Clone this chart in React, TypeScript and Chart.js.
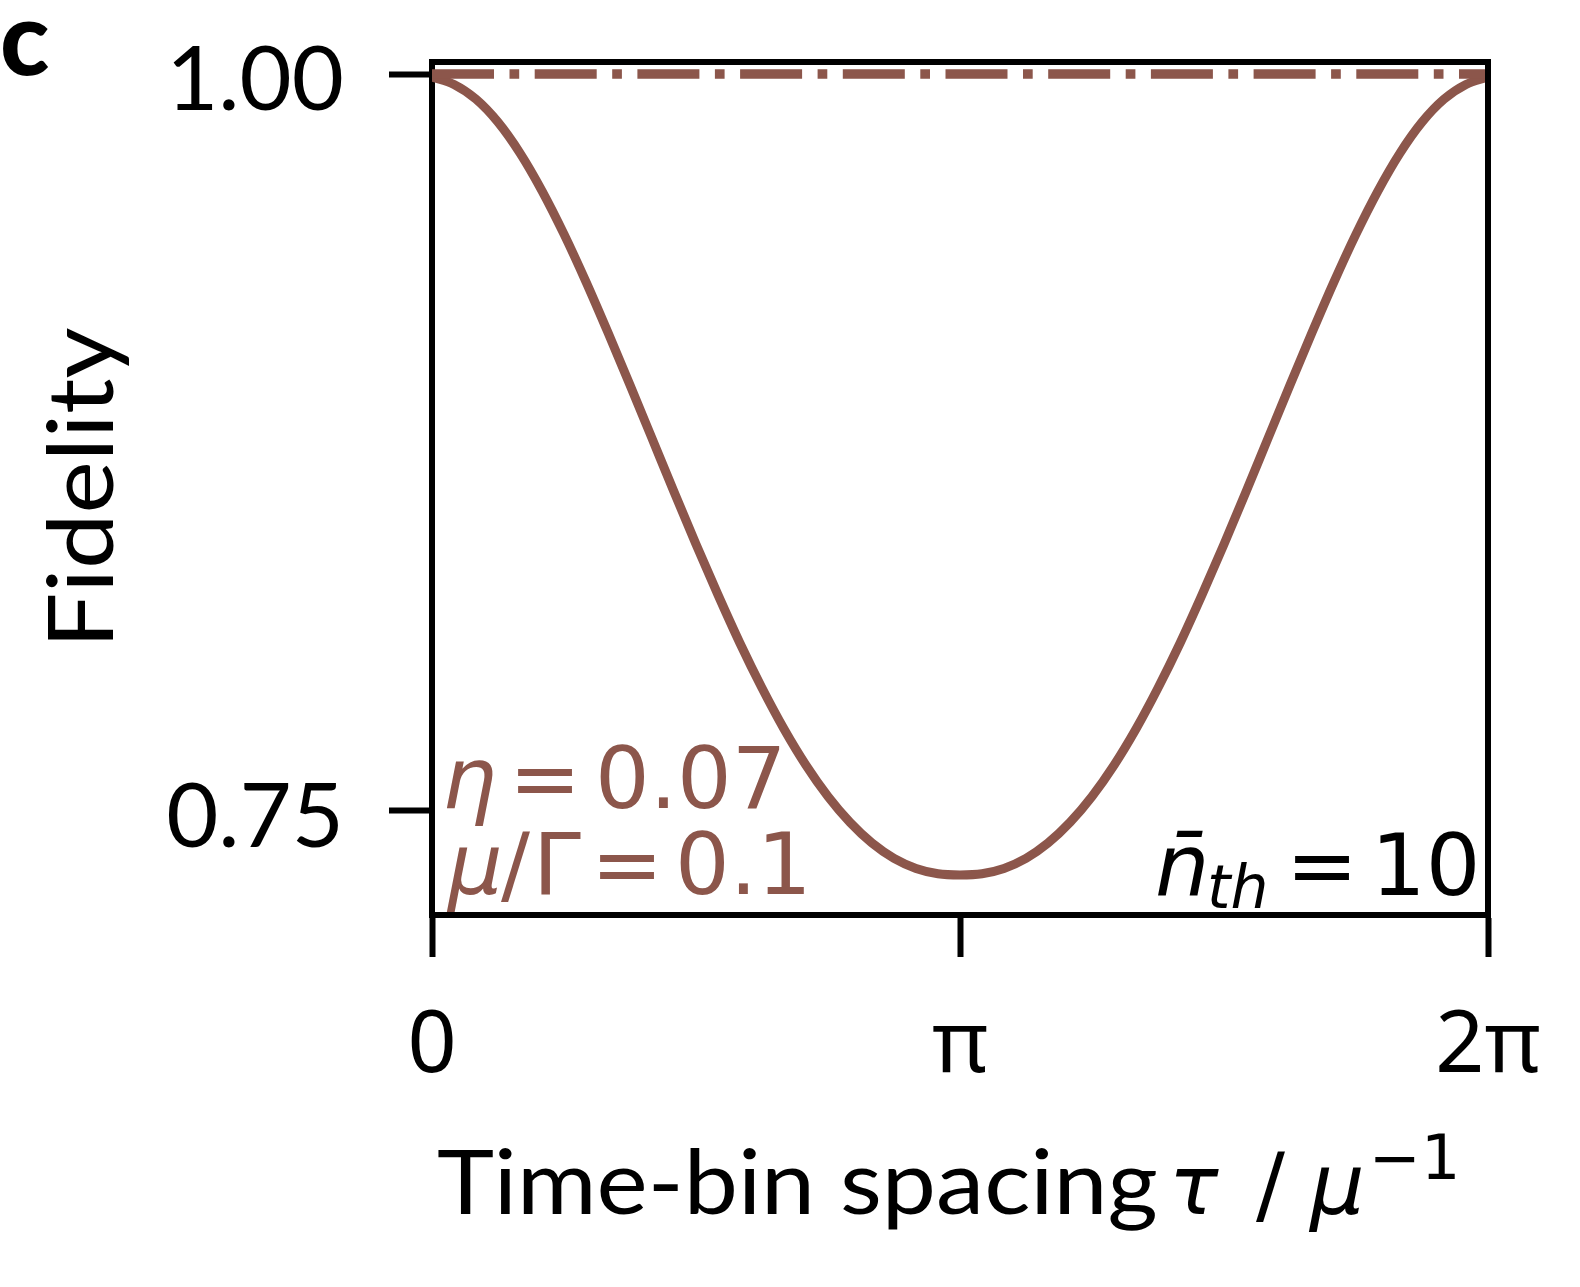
import React, { useEffect, useRef } from "react";
import { Chart, registerables } from "chart.js";

Chart.register(...registerables);

// τ in units of π
const TAU_OVER_PI = [
  0, 0.0417, 0.0833, 0.125, 0.1667, 0.2083, 0.25, 0.2917, 0.3333, 0.375, 0.4167, 0.4583,
  0.5, 0.5417, 0.5833, 0.625, 0.6667, 0.7083, 0.75, 0.7917, 0.8333, 0.875, 0.9167, 0.9583,
  1, 1.0417, 1.0833, 1.125, 1.1667, 1.2083, 1.25, 1.2917, 1.3333, 1.375, 1.4167, 1.4583,
  1.5, 1.5417, 1.5833, 1.625, 1.6667, 1.7083, 1.75, 1.7917, 1.8333, 1.875, 1.9167, 1.9583, 2,
];
const FIDELITY = [
  0.999, 0.9965, 0.9915, 0.9837, 0.9732, 0.9604, 0.9457, 0.9295, 0.9123, 0.8945, 0.8764, 0.8583,
  0.8405, 0.8233, 0.8069, 0.7917, 0.7778, 0.7655, 0.7549, 0.7461, 0.7391, 0.7339, 0.7305, 0.7287,
  0.7283, 0.7287, 0.7305, 0.7339, 0.7391, 0.7461, 0.7549, 0.7655, 0.7778, 0.7917, 0.8069, 0.8233,
  0.8405, 0.8583, 0.8764, 0.8945, 0.9123, 0.9295, 0.9457, 0.9604, 0.9732, 0.9837, 0.9915, 0.9965, 0.999,
];
const REF_TAU_OVER_PI = [0, 2];
const REF_FIDELITY = [1.0, 1.0];

const X_TICKS = [0, 1, 2];
const X_TICK_LABELS = ["0", "π", "2π"];
const Y_TICKS = [0.75, 1.0];
const Y_TICK_LABELS = ["0.75", "1.00"];
const X_MIN = 0;
const X_MAX = 2;
const Y_MIN = 0.7147;
const Y_MAX = 1.0041;

const BROWN = "#8c564b";
const W = 1580;
const H = 1287;

function inkText(
  ctx: CanvasRenderingContext2D,
  text: string,
  font: string,
  inkLeft: number,
  baseline: number,
  color: string,
  fitRight?: number
) {
  ctx.save();
  ctx.font = font;
  ctx.fillStyle = color;
  ctx.textAlign = "left";
  ctx.textBaseline = "alphabetic";
  const m = ctx.measureText(text);
  if (fitRight !== undefined) {
    const inkW = m.actualBoundingBoxLeft + m.actualBoundingBoxRight;
    const sx = (fitRight - inkLeft) / inkW;
    ctx.translate(inkLeft, baseline);
    ctx.scale(sx, 1);
    ctx.fillText(text, m.actualBoundingBoxLeft, 0);
  } else {
    ctx.fillText(text, inkLeft + m.actualBoundingBoxLeft, baseline);
  }
  ctx.restore();
}

const decorPlugin = {
  id: "decor",
  afterDraw(chart: any) {
    const ctx: CanvasRenderingContext2D = chart.ctx;
    const a = chart.chartArea;
    ctx.save();
    ctx.fillStyle = "#000";
    // top and right spines
    ctx.fillRect(a.left - 3, a.top - 3, a.right - a.left + 6, 6);
    ctx.fillRect(a.right - 3, a.top - 3, 6, a.bottom - a.top + 6);
    ctx.restore();

    // panel label
    inkText(ctx, "c", "900 102px Lato", 3, 75, "#000");

    // y title
    ctx.save();
    ctx.translate(113, 640);
    ctx.rotate(-Math.PI / 2);
    inkText(ctx, "Fidelity", "92px Lato", 0, 0, "#000", 312);
    ctx.restore();

    // x title
    const xb = 1214;
    inkText(ctx, "Time-bin spacing", "90px Lato", 438, xb, "#000", 1156);
    inkText(ctx, "τ", 'italic 82px "DejaVu Sans"', 1175, xb, "#000");
    inkText(ctx, "/", '86px "DejaVu Sans"', 1256, xb, "#000");
    inkText(ctx, "μ", 'italic 86px "DejaVu Sans"', 1308, xb, "#000");
    inkText(ctx, "−1", '62px "DejaVu Sans"', 1375, 1179, "#000");

    // parameter annotations
    const f = '86px "DejaVu Sans"';
    const fi = 'italic 86px "DejaVu Sans"';
    inkText(ctx, "η", fi, 446, 808, BROWN);
    inkText(ctx, "=", f, 518, 808, BROWN);
    inkText(ctx, "0.07", f, 600, 808, BROWN);
    inkText(ctx, "μ", fi, 446, 894, BROWN);
    inkText(ctx, "/", f, 501, 894, BROWN);
    inkText(ctx, "Γ", f, 541, 894, BROWN);
    inkText(ctx, "=", f, 600, 894, BROWN);
    inkText(ctx, "0.1", f, 680, 894, BROWN);

    inkText(ctx, "n\u0304", fi, 1158, 895, "#000");
    inkText(ctx, "th", 'italic 60px "DejaVu Sans"', 1210, 908, "#000");
    inkText(ctx, "=", f, 1295, 895, "#000");
    inkText(ctx, "10", f, 1380, 895, "#000");
  },
};

export default function App() {
  const ref = useRef<HTMLCanvasElement | null>(null);
  useEffect(() => {
    if (!ref.current) return;
    const curve = TAU_OVER_PI.map((x, i) => ({ x, y: FIDELITY[i] }));
    const refLine = REF_TAU_OVER_PI.map((x, i) => ({ x, y: REF_FIDELITY[i] }));
    const chart = new Chart(ref.current, {
      type: "line",
      data: {
        datasets: [
          {
            data: refLine,
            borderColor: BROWN,
            borderWidth: 9.5,
            borderDash: [62, 15.5, 9.7, 15.5],
            borderCapStyle: "butt",
            pointRadius: 0,
            tension: 0,
          },
          {
            data: curve,
            borderColor: BROWN,
            borderWidth: 9,
            pointRadius: 0,
            cubicInterpolationMode: "monotone",
          },
        ],
      },
      options: {
        animation: false,
        responsive: false,
        devicePixelRatio: 1,
        layout: { padding: { top: 62, right: 92, left: 0, bottom: 0 } },
        plugins: { legend: { display: false }, tooltip: { enabled: false } },
        scales: {
          x: {
            type: "linear",
            min: X_MIN,
            max: X_MAX,
            afterBuildTicks: (s: any) => {
              s.ticks = X_TICKS.map((v) => ({ value: v }));
            },
            afterFit: (s: any) => {
              s.height = 372;
              s.paddingLeft = 0;
              s.paddingRight = 0;
              s.paddingTop = 0;
              s.paddingBottom = 0;
            },
            ticks: {
              callback: (v: any) => X_TICK_LABELS[X_TICKS.indexOf(Number(v))],
              font: { family: "'Noto Sans'", size: 86 },
              color: "#000",
              padding: 39,
              maxRotation: 0,
              autoSkip: false,
            },
            grid: {
              drawOnChartArea: false,
              drawTicks: true,
              tickLength: 42,
              tickWidth: 6,
              tickColor: "#000",
            },
            border: { display: true, width: 6, color: "#000" },
          },
          y: {
            type: "linear",
            min: Y_MIN,
            max: Y_MAX,
            afterBuildTicks: (s: any) => {
              s.ticks = Y_TICKS.map((v) => ({ value: v }));
            },
            afterFit: (s: any) => {
              s.width = 432;
              s.paddingLeft = 0;
              s.paddingRight = 0;
              s.paddingTop = 0;
              s.paddingBottom = 0;
            },
            ticks: {
              callback: (v: any) => Y_TICK_LABELS[Y_TICKS.indexOf(Number(v))],
              font: { family: "Lato", size: 90 },
              color: "#000",
              padding: 45,
              labelOffset: 7,
              autoSkip: false,
            },
            grid: {
              drawOnChartArea: false,
              drawTicks: true,
              tickLength: 43,
              tickWidth: 6,
              tickColor: "#000",
            },
            border: { display: true, width: 6, color: "#000" },
          },
        },
      },
      plugins: [decorPlugin],
    } as any);
    return () => chart.destroy();
  }, []);

  return (
    <div style={{ position: "absolute", left: 0, top: 0, width: W, height: H, background: "#fff" }}>
      <canvas ref={ref} width={W} height={H} style={{ display: "block", width: W, height: H }} />
    </div>
  );
}
